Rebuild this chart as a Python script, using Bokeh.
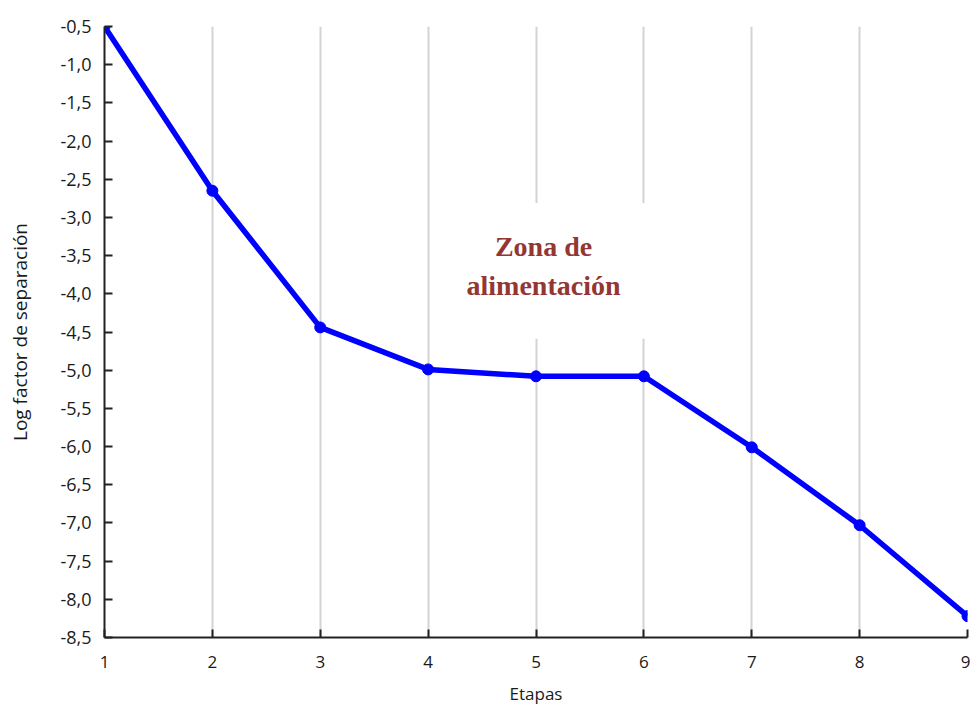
from bokeh.plotting import figure
from bokeh.models import FixedTicker, CustomJSTickFormatter, Range1d, Label
from bokeh.embed import file_html
from bokeh.resources import INLINE

# Data
etapas = [1, 2, 3, 4, 5, 6, 7, 8, 9]
log_factor = [-0.5, -2.65, -4.44, -4.99, -5.08, -5.08, -6.01, -7.03, -8.22]
x_ticks = [1, 2, 3, 4, 5, 6, 7, 8, 9]
y_ticks = [-0.5, -1.0, -1.5, -2.0, -2.5, -3.0, -3.5, -4.0, -4.5, -5.0,
           -5.5, -6.0, -6.5, -7.0, -7.5, -8.0, -8.5]
note_text = "Zona de\nalimentación"
note_x = 5.07
note_y = -3.70

p = figure(width=970, height=707, output_backend="svg", toolbar_location=None,
           x_range=Range1d(1, 9), y_range=Range1d(-8.5, -0.5),
           min_border_left=104, min_border_right=3, min_border_top=26,
           min_border_bottom=70)
p.outline_line_color = None
p.background_fill_color = "white"
p.border_fill_color = "white"

p.line(etapas, log_factor, line_color="#0000ff", line_width=5.5)
p.scatter(etapas, log_factor, size=11, fill_color="#0000ff", line_color="#0000ff")

p.xaxis.ticker = FixedTicker(ticks=x_ticks)
p.yaxis.ticker = FixedTicker(ticks=y_ticks)
p.yaxis.formatter = CustomJSTickFormatter(code="return tick.toFixed(1).replace('.', ',');")

for ax in (p.xaxis[0], p.yaxis[0]):
    ax.axis_line_color = "#222222"
    ax.axis_line_width = 2
    ax.major_tick_line_color = "#222222"
    ax.major_tick_line_width = 2
    ax.major_tick_in = 8
    ax.major_tick_out = 0
    ax.minor_tick_line_color = None
    ax.major_label_text_font = "Open Sans"
    ax.major_label_text_color = "#1a1a1a"
    ax.axis_label_text_font = "Open Sans"
    ax.axis_label_text_font_style = "normal"
    ax.axis_label_text_color = "#1a1a1a"

p.xaxis.axis_label = "Etapas"
p.yaxis.axis_label = "Log factor de separación"
p.yaxis.major_label_text_font_size = "18px"
p.xaxis.major_label_text_font_size = "17px"
p.xaxis.axis_label_text_font_size = "17px"
p.yaxis.axis_label_text_font_size = "19px"
p.xaxis.major_label_standoff = 18
p.xaxis.axis_label_standoff = 11
p.yaxis.major_label_standoff = 13
p.yaxis.axis_label_standoff = 24

p.xgrid.grid_line_color = "#d3d3d3"
p.xgrid.grid_line_width = 2
p.ygrid.grid_line_color = None

label = Label(x=note_x, y=note_y, text=note_text, text_align="center",
              text_baseline="middle", text_font="Liberation Serif",
              text_font_style="bold", text_font_size="28px",
              text_color="#943634", text_line_height=1.25,
              background_fill_color="white", background_fill_alpha=1.0,
              padding=dict(left=33, right=33, top=28, bottom=38))
p.add_layout(label)

open("out.html", "w").write(file_html(p, INLINE))
